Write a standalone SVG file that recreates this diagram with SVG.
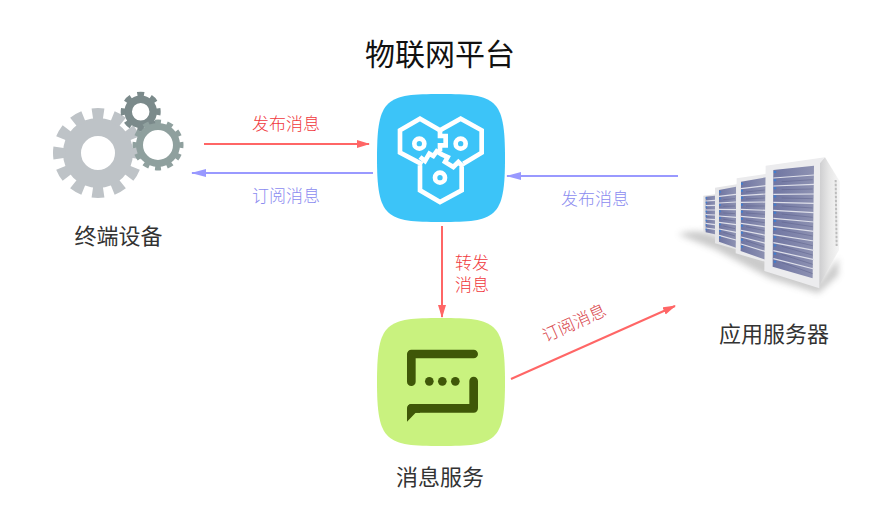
<svg xmlns="http://www.w3.org/2000/svg" width="889" height="523" viewBox="0 0 889 523">
<style>
text{font-family:"Noto Sans CJK SC","Noto Sans",sans-serif;text-anchor:middle}
.t{font-size:22px;fill:#333}
.red{font-size:17px;fill:#f0383c;font-weight:300}
.pur{font-size:17px;fill:#8c8cf0;font-weight:300}
.lr{stroke:#f66;stroke-width:2;fill:none;marker-end:url(#ar)}
.lp{stroke:#99f;stroke-width:2;fill:none;marker-end:url(#ap)}
.hex{fill:none;stroke:#fff;stroke-width:14;stroke-linejoin:miter}
.scr{stroke:#dfe0ea;fill:none;stroke-width:3.5}
.dk{stroke:#5d628c;fill:none;stroke-width:1.500}
.led{fill:none;stroke:#3f7fd0}
</style>
<defs>
<marker id="ar" markerWidth="14" markerHeight="10" refX="12" refY="4" orient="auto" markerUnits="userSpaceOnUse"><path d="M0 0L13 4L0 8Z" fill="#f66"/></marker>
<marker id="ap" markerWidth="18" markerHeight="10" refX="14" refY="4" orient="auto" markerUnits="userSpaceOnUse"><path d="M0 0L15 4L0 8Z" fill="#99f"/></marker>
<linearGradient id="side" x1="0" y1="0" x2="1" y2="0"><stop offset="0" stop-color="#c9c9cb"/><stop offset=".5" stop-color="#e6e6e6"/><stop offset="1" stop-color="#f7f7f7"/></linearGradient>
<linearGradient id="scr" x1="0" y1="0" x2="1" y2="0"><stop offset="0" stop-color="#6f75a2"/><stop offset="1" stop-color="#8e92b2"/></linearGradient>
<filter id="bl" x="-30%" y="-50%" width="160%" height="200%"><feGaussianBlur stdDeviation="9"/></filter>
</defs>
<text x="440" y="65" style="font-size:30px;fill:#111">物联网平台</text>
<g id="connectors">
<path class="lr" d="M204 144H369"/>
<path class="lp" d="M373 173H192"/>
<path class="lp" d="M678 176H507"/>
<path class="lr" d="M442 226V317"/>
<path class="lr" d="M511 379L675 306"/>
<text class="red" x="286" y="130">发布消息</text>
<text class="pur" x="286" y="202">订阅消息</text>
<text class="pur" x="595" y="205">发布消息</text>
<text class="red" x="472" y="269">转发<tspan x="472" dy="22">消息</tspan></text>
<text class="red" x="574" y="329" transform="rotate(-24 574 323)" style="fill:#d8444a">订阅消息</text>
</g>
<g id="device">
<g fill="none" stroke="#bec3c7">
<circle cx="98" cy="153" r="26" stroke-width="18"/>
<circle cx="98" cy="153" r="39" stroke-width="12" pathLength="24" stroke-dasharray="1.100 .9" stroke-dashoffset=".55"/>
</g>
<g fill="none" stroke="#7b8a8b">
<circle cx="140.700" cy="111.700" r="12.500" stroke-width="7.500"/>
<circle cx="140.700" cy="111.700" r="17.500" stroke-width="5" pathLength="16" stroke-dasharray="1 1" stroke-dashoffset=".5"/>
</g>
<g fill="none" stroke="#8fa09e">
<circle cx="158" cy="145" r="18.500" stroke-width="7"/>
<circle cx="158" cy="145" r="23" stroke-width="5" pathLength="24" stroke-dasharray="1 1" stroke-dashoffset=".5"/>
</g>
<text class="t" x="118.500" y="244">终端设备</text>
</g>
<g id="platform">
<path fill="#3cc4f8" d="M441 94C496 94 505 98 505 158C505 218 496 222 441 222C386 222 377 218 377 158C377 98 386 94 441 94Z"/>
<g transform="translate(395 112) scale(.3333)">
<path class="hex" d="M82 157L15 122V55L75 20L135 55L197 20L260 55V122L205 155"/>
<path class="hex" d="M135 55V72H152V100H135V118"/>
<path class="hex" d="M75 160V235L135 270L200 235V165"/>
<path class="hex" d="M75 135L90 147L103 125L115 132L125 118L140 127L158 135L150 150L175 165L190 150L205 165"/>
<circle class="hex" cx="73" cy="95" r="15"/>
<circle class="hex" cx="197" cy="95" r="15"/>
<circle class="hex" cx="135" cy="197" r="15"/>
</g>
</g>
<g id="message">
<path fill="#c9f27f" d="M441 318C496 318 505 322 505 382C505 442 496 446 441 446C386 446 377 442 377 382C377 322 386 318 441 318Z"/>
<g transform="translate(365 310) scale(.3333)">
<path d="M139 215V132H326M326 213V295H140" fill="none" stroke="#3f5708" stroke-width="26" stroke-linecap="round" stroke-linejoin="round"/>
<path d="M126 335V296Q126 282 140 282H165V308H152Z" fill="#3f5708"/>
<circle cx="193" cy="214" r="13" fill="#3f5708"/>
<circle cx="232" cy="214" r="13" fill="#3f5708"/>
<circle cx="271" cy="214" r="13" fill="#3f5708"/>
</g>
<text class="t" x="440" y="485">消息服务</text>
</g>
<g id="server">
<g transform="translate(670 145) scale(.3333)">
<path d="M25 268C60 255 100 258 135 270L285 340L445 415L505 340L505 390L445 445L300 400L135 312L60 282Z" fill="#8a8a8a" opacity=".45" filter="url(#bl)"/>
<path d="M100 152L137 148L135 272L100 262Z" fill="#e2e2e4"/>
<path d="M107 155L135 152V268L107 262Z" fill="url(#scr)"/>
<path class="scr" d="M107 168L135 166M107 182L135 181M107 195L135 195M107 209L135 210M107 222L135 224M107 235L135 239M107 249L135 253"/>
<path class="led" stroke-width="4" stroke-dasharray="4 9.500" d="M109 157V262"/>
<path d="M135 128L205 117L198 313L135 295Z" fill="#e6e6e8"/>
<path d="M147 135L198 125V308L147 290Z" fill="url(#scr)"/>
<path class="scr" d="M147 154L198 148M147 174L198 171M147 193L198 194M147 213L198 217M147 232L198 239M147 252L198 262M147 271L198 285"/>
<path class="dk" d="M160 164L195 161M160 184L195 183M160 204L195 206M160 223L195 228M160 243L195 251M160 262L195 273"/>
<path class="led" stroke-width="5" stroke-dasharray="5 14.500" d="M150 138V288"/>
<path d="M200 100L300 85L292 352L197 325Z" fill="#ebebed"/>
<path d="M213 110L288 97V345L212 318Z" fill="url(#scr)"/>
<path class="scr" d="M213 131L288 122M213 152L288 147M213 172L288 171M213 193L288 196M213 214L288 221M213 235L288 246M213 256L288 271M213 276L288 295M213 297L288 320"/>
<path class="dk" d="M228 141L284 135M228 162L284 159M228 183L284 183M228 204L284 208M228 225L284 233M228 245L284 257M228 266L284 282M228 287L284 306"/>
<path class="led" stroke-width="6" stroke-dasharray="6 15" d="M216 113V318"/>
<path d="M450 52L465 37L510 110L507 315L443 430Z" fill="url(#side)"/>
<path d="M287 62L465 37L450 55L448 430L283 378Z" fill="#ececee"/>
<path d="M310 75L432 62L428 400L308 365Z" fill="url(#scr)"/>
<path class="scr" d="M310 99L432 90M310 123L432 118M310 148L432 147M310 172L432 175M310 196L432 203M310 220L432 231M310 244L432 259M310 269L432 288M310 293L432 316M310 317L432 344M310 341L432 372"/>
<path class="dk" d="M335 110L428 104M335 134L428 132M335 159L428 161M335 183L428 189M335 207L428 217M335 231L428 245M335 255L428 273M335 280L428 302M335 304L428 330M335 328L428 358M335 352L428 386"/>
<path class="led" stroke-width="7" stroke-dasharray="6 18.500" d="M315 78V362"/>
<path d="M497 105L500 305" fill="none" stroke="#aaa" stroke-width="6" stroke-dasharray="2 2"/>
</g>
<text class="t" x="774" y="342">应用服务器</text>
</g>
</svg>
